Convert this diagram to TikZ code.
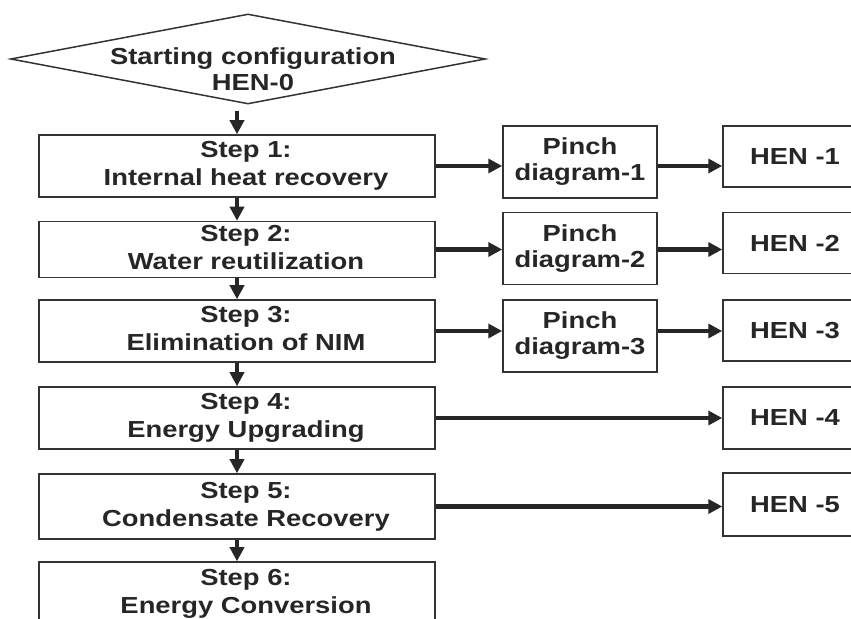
\documentclass[tikz,border=0pt]{standalone}
\usepackage{fontspec}
\setmainfont{Liberation Sans}[FakeStretch=1.18]
\usetikzlibrary{shapes.geometric,arrows.meta}
\newcommand{\steptext}[2]{\hspace{9pt}\begin{tabular}{@{}c@{}}#1\\#2\end{tabular}}

\begin{document}
\begin{tikzpicture}[x=0.5pt, y=-0.5pt,
  every node/.style={font=\bfseries\fontsize{11.6}{14}\selectfont, text=black!85},
  stepbox/.style={draw=black!80, line width=0.75pt, minimum width=198pt, minimum height=31pt, align=center, inner sep=0pt},
  pinchbox/.style={stepbox, minimum width=77pt, minimum height=36pt, font=\bfseries\fontsize{11.6}{13}\selectfont},
  henbox/.style={stepbox, minimum width=72pt, minimum height=30.5pt},
  varr/.style={line width=1.7pt, draw=black!85, -{Triangle[length=7pt,width=7pt]}},
  harr/.style={varr, line width=2.2pt}]
\useasboundingbox (0,0) rectangle (851,619);
\clip (0,0) rectangle (851,619);
% Nodes
\node[diamond, draw=black!80, line width=0.75pt, minimum width=237.5pt, minimum height=45pt, inner sep=0pt] (start) at (248,59)
  {\smash{\raisebox{-9.5pt}{\makebox[0pt]{\hspace{5pt}\fontsize{11.6}{13}\selectfont\begin{tabular}{@{}c@{}}Starting configuration\\HEN-0\end{tabular}}}}};
\node[stepbox] (s1) at (237,166) {\steptext{Step 1:}{Internal heat recovery}};
\node[stepbox, minimum height=27.5pt] (s2) at (237,249.5) {\steptext{Step 2:}{Water reutilization}};
\node[stepbox] (s3) at (237,331) {\steptext{Step 3:}{Elimination of NIM}};
\node[stepbox] (s4) at (237,418) {\steptext{Step 4:}{Energy Upgrading}};
\node[stepbox, minimum height=32.5pt] (s5) at (237,506.5) {\steptext{Step 5:}{Condensate Recovery}};
\node[stepbox, minimum height=32pt] (s6) at (237,594) {\steptext{Step 6:}{Energy Conversion}};
\node[pinchbox] (p1) at (580,162) {Pinch\\diagram-1};
\node[pinchbox] (p2) at (580,248.5) {Pinch\\diagram-2};
\node[pinchbox] (p3) at (580,336) {Pinch\\diagram-3};
\node[henbox] (h1) at (795,156.5) {HEN -1};
\node[henbox] (h2) at (795,243) {HEN -2};
\node[henbox] (h3) at (795,330.5) {HEN -3};
\node[henbox, minimum height=31pt] (h4) at (795,418) {HEN -4};
\node[henbox, minimum height=31.5pt] (h5) at (795,504.5) {HEN -5};
% Arrows
\coordinate (top) at ([yshift=-3pt]start.south);
\draw[varr] (top -| s1.north) -- (s1.north);
\foreach \a/\b in {s1/s2,s2/s3,s3/s4,s4/s5,s5/s6}
  \draw[varr] (\a) -- (\b);
\foreach \i in {1,2,3} {
  \draw[harr] (s\i.east) -- (s\i.east -| p\i.west);
  \draw[harr] (p\i.east |- s\i.east) -- (s\i.east -| h\i.west);
}
\foreach \i in {4,5}
  \draw[harr] (s\i.east) -- (s\i.east -| h\i.west);
\end{tikzpicture}
\end{document}
